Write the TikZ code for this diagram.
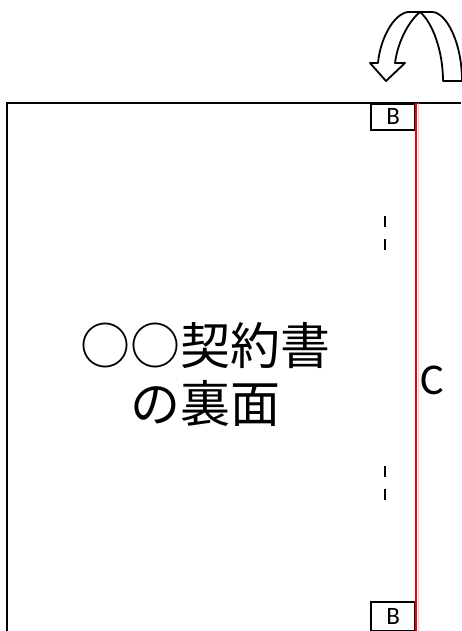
\documentclass[tikz,border=0pt]{standalone}
\usepackage{fontspec}
\setmainfont{Carlito}
\newfontfamily\jpfont{Noto Sans CJK JP}

\tikzset{tab/.style={draw,line width=1.6pt,minimum width=44pt,minimum height=26pt,inner sep=0pt,font=\fontsize{25}{25}\selectfont}}
\tikzset{fold/.style={line width=1.8pt,line join=round,fill=white}}

\begin{document}
\begin{tikzpicture}[x=1pt,y=-1pt]
                  \useasboundingbox (0,0) rectangle (461,631);
                  \draw[line width=2.6pt] (7,640) -- (7,103) -- (461,103);
                  \node[tab,anchor=north east] (Btop) at (416,103) {B};
                  \node[tab,anchor=north east,minimum height=29pt] (Bbot) at (416,601) {B};
                  \draw[line width=2.8pt, red!92!black] (416,103) -- (416,640);
                  \draw[line width=1pt, red!30, opacity=0.7] (418.2,103) -- (418.2,640);
                  \draw[line width=2.6pt, dash pattern=on 11pt off 12pt] (385,216) -- (385,250);
                  \draw[line width=2.6pt, dash pattern=on 11pt off 12pt] (385,466) -- (385,500);
                  \node[font=\jpfont\fontsize{50}{58}\selectfont,align=center] (title) at (205,374) {○○契約書\\の裏面};
                  \node[font=\fontsize{44}{44}\selectfont] (labelC) at (432,380) {C};
                  % turn-over arrow
                  \draw[fold] (462,81) .. controls (462,42) and (446,12) .. (432,12) -- (408,12)
                     .. controls (393,14) and (380,40) .. (378,63) -- (370,63) -- (386,81) -- (405,63) -- (395,63)
                     .. controls (398,40) and (410,20) .. (420,12)
                     .. controls (432,22) and (443,50) .. (443,81) -- cycle;
              \end{tikzpicture}
\end{document}
